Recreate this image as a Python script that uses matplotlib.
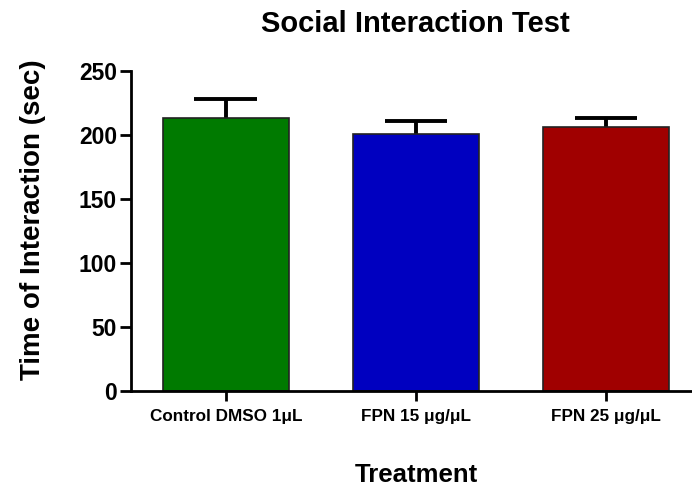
import matplotlib
matplotlib.use("Agg")
import matplotlib.pyplot as plt

plt.rcParams['font.family'] = ['Liberation Sans', 'DejaVu Sans']
plt.rcParams['font.weight'] = 'bold'

groups = ['Control DMSO 1μL', 'FPN 15 μg/μL', 'FPN 25 μg/μL']
means = [213.0, 200.5, 206.0]
sem = [15.0, 10.5, 7.0]
colors = ['#007A00', '#0000C0', '#A00000']

fig = plt.figure(figsize=(6.92, 4.87), dpi=100)
ax = fig.add_axes([0.189, 0.198, 0.824, 0.657])

x = list(range(len(groups)))
ax.bar(x, means, width=0.66, color=colors, edgecolor='#222222', linewidth=1.2, zorder=2)

# upper half of the error bars only
tops = [m + e for m, e in zip(means, sem)]
cap = 0.165
ax.vlines(x, means, tops, colors='black', linewidth=2.8, zorder=1)
ax.hlines(tops, [i - cap for i in x], [i + cap for i in x], colors='black', linewidth=2.8, zorder=1)

ax.set_xlim(-0.5, 2.5)
ax.set_ylim(0, 250)
ax.set_yticks([0, 50, 100, 150, 200, 250])
ax.set_xticks(x)
ax.set_xticklabels(groups, fontsize=12.3, fontweight='bold')
for lab in ax.get_yticklabels():
    lab.set_fontsize(16.5)
    lab.set_fontweight('bold')

for side in ['top', 'right']:
    ax.spines[side].set_visible(False)
for side in ['left', 'bottom']:
    ax.spines[side].set_linewidth(2.0)
ax.tick_params(axis='y', length=8, width=2.0, pad=2)
ax.tick_params(axis='x', length=7, width=2.0, pad=6)

ax.set_ylabel('Time of Interaction (sec)', fontsize=20, fontweight='bold')
ax.yaxis.set_label_coords(-0.148, 0.533)
ax.set_xlabel('Treatment', fontsize=18.5, fontweight='bold', labelpad=28)
fig.text(0.6, 0.95, 'Social Interaction Test', fontsize=21, fontweight='bold',
         ha='center', va='center')

fig.savefig('out.png', dpi=100)
